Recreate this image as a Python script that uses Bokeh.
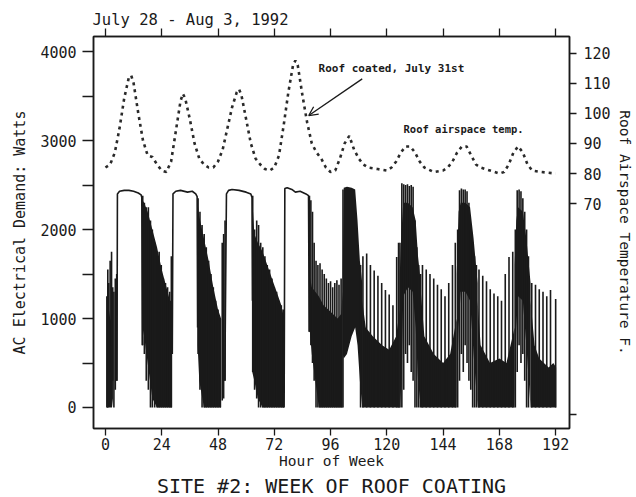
from bokeh.plotting import figure
from bokeh.models import Range1d, LinearAxis, FixedTicker, Label, Arrow, OpenHead, Title
from bokeh.embed import file_html
from bokeh.resources import INLINE

# ---------------- data ----------------
hour_ticks = [0, 24, 48, 72, 96, 120, 144, 168, 192]
watt_ticks = [0, 1000, 2000, 3000, 4000]
watt_minor = [500, 1500, 2500, 3500]
temp_ticks = [0, 70, 80, 90, 100, 110, 120]

# roof airspace temperature (F)
temp_hours = [0, 2, 4, 6, 8, 10, 11, 12, 14, 16, 18, 20, 22, 24, 26, 28, 30, 32, 33, 34, 36, 38, 40,
              42, 44, 46, 48, 50, 52, 54, 56, 57, 58, 60, 62, 64, 66, 68, 70, 72, 74, 76, 78, 80, 81,
              82, 84, 86, 88, 90, 92, 94, 96, 98, 100, 102, 104, 106, 108, 110, 112, 116, 120, 122,
              124, 126, 128, 130, 132, 134, 136, 140, 144, 146, 148, 150, 152, 154, 156, 158, 160,
              164, 168, 170, 172, 174, 176, 178, 180, 182, 186, 192]
temp_f = [82, 83, 87, 95, 105, 112, 112.5, 110, 100, 91, 86, 85.5, 83, 81, 80.5, 84, 94, 104, 106.5,
          105, 98, 90, 85, 83, 82, 82, 84, 88, 95, 102, 107, 108, 106, 98, 90, 85, 83, 81.5, 81, 82,
          86, 96, 107, 116, 117.5, 116, 106, 97, 90, 87, 85, 82, 80.5, 81, 85, 90, 92.5, 88, 85, 83,
          82, 81.5, 81, 82, 84, 87, 89, 89, 87, 84, 82, 80.5, 81, 82, 84, 87, 89, 89, 86, 83, 82,
          81, 80, 80.5, 83, 87, 89, 87, 83, 81, 80.5, 80]

# AC demand: compressor-on plateaus (W)
plateau_hours = [
    [4.9, 5.1, 6.0, 8.0, 10.0, 12.0, 14.0, 15.2, 15.5, 15.7],
    [28.5, 28.8, 30.0, 32.0, 35.0, 37.0, 38.5, 39.1, 39.3],
    [50.9, 51.6, 52.5, 54.0, 57.0, 60.0, 62.0, 62.5, 62.7],
    [76.2, 76.5, 77.5, 79.5, 81.0, 83.0, 85.5, 86.6, 86.9],
]
plateau_watts = [
    [300, 2400, 2430, 2440, 2440, 2430, 2410, 2390, 2360, 700],
    [600, 2400, 2430, 2440, 2420, 2430, 2400, 2370, 900],
    [300, 2400, 2440, 2450, 2440, 2420, 2400, 2360, 1200],
    [0, 2460, 2470, 2450, 2420, 2430, 2400, 2380, 850],
]

# AC demand: dense cycling bands (envelopes, W)
band_hours = [
    [0.6, 1.2, 2.0, 2.8, 3.2],
    [15.8, 16.5, 18, 20, 22, 24, 26, 27.5, 28.4],
    [39.3, 40, 42, 44, 46, 48, 49.3],
    [62.6, 63.5, 65, 67, 69, 71, 73, 75, 76.2],
    [87, 88, 89.5, 91, 93, 95, 97, 99, 100.5, 101.2],
    [101.2, 101.6, 103, 105, 106.5, 107.5, 108.5, 109.5],
    [109.5, 111, 114, 118, 121, 124, 125.5],
    [125.5, 126.3, 127, 129, 131, 132.3, 133.3, 134.5],
    [134.5, 136, 140, 144, 147, 149.8],
    [149.8, 150.6, 151.5, 153.5, 155.5, 157, 158.7],
    [158.7, 160, 164, 168, 171, 174.5],
    [174.5, 175.2, 176, 178, 179.5, 181.3],
    [181.3, 183, 185, 187, 189, 191, 192.2],
]
band_low = [
    [0, 0, 0, 0, 100],
    [900, 800, 500, 100, 0, 0, 0, 0, 0],
    [700, 300, 0, 0, 0, 0, 0],
    [400, 300, 100, 0, 0, 0, 0, 0, 0],
    [900, 600, 300, 0, 0, 0, 0, 0, 0, 0],
    [600, 550, 600, 800, 900, 700, 300, 0],
    [0, 0, 0, 0, 0, 0, 0],
    [0, 300, 1250, 1350, 1300, 900, 300, 0],
    [0, 0, 0, 0, 0, 0],
    [0, 900, 1300, 1300, 1200, 600, 0],
    [0, 0, 0, 0, 0, 0],
    [0, 900, 1250, 1200, 700, 0],
    [0, 0, 0, 0, 0, 0, 0],
]
band_high = [
    [1100, 1150, 1000, 950, 700],
    [2330, 2300, 2200, 2000, 1800, 1550, 1350, 1200, 1200],
    [2300, 2150, 1900, 1650, 1350, 1100, 1000],
    [2350, 1950, 1850, 1750, 1600, 1450, 1300, 1150, 1000],
    [1500, 1350, 1300, 1250, 1150, 1100, 1050, 1000, 1050, 1300],
    [1500, 2470, 2480, 2470, 2450, 2100, 1650, 1400],
    [1200, 900, 800, 700, 650, 800, 1100],
    [1500, 2000, 2300, 2300, 2250, 2100, 1700, 1400],
    [1300, 800, 600, 500, 600, 1000],
    [1500, 2200, 2300, 2300, 2250, 1900, 1400],
    [1200, 700, 500, 550, 500, 900],
    [1600, 2100, 2250, 2200, 1900, 1400],
    [1200, 700, 550, 500, 450, 500, 450],
]

# AC demand: individual on-cycles (hour, low W, high W)
seg_hour = [0.6, 1.0, 1.4, 2.0, 2.6, 3.1, 3.6, 4.2, 4.8,
            15.9, 16.6, 17.4, 18.3, 19.2, 20.0, 21.0, 22.0, 22.9, 23.8, 24.7, 25.6, 26.5, 27.4, 28.1,
            39.5, 40.3, 41.2, 42.1, 43.0, 44.0, 45.0, 46.0, 47.0, 48.0, 49.0, 49.8, 50.4, 51.0,
            62.8, 63.6, 64.5, 65.3, 66.2, 67.1, 68.0, 69.0, 70.0, 71.0, 72.0, 73.0, 74.0, 75.0, 75.8,
            87.0, 87.6, 88.3, 89.0, 89.8, 90.6, 91.5, 92.4, 93.3, 94.2, 95.1, 96.0, 96.9, 97.8, 98.7,
            99.6, 100.5, 101.3, 108.8,
            109.8, 111.4, 113.0, 114.6, 116.2, 117.8, 119.4, 121.0, 122.6, 124.2, 125.0,
            125.6, 126.4, 127.2, 128.0, 128.8, 129.6, 130.4, 131.2, 132.0, 132.8, 133.6, 134.4,
            135.2, 136.8, 138.4, 140.0, 141.6, 143.2, 144.8, 146.4, 148.0, 149.2,
            150.2, 151.0, 151.8, 152.6, 153.4, 154.2, 155.0, 155.8, 156.6, 157.4, 158.2,
            159.3, 160.9, 162.5, 164.1, 165.7, 167.3, 168.9, 170.5, 172.1, 173.7,
            174.8, 175.6, 176.4, 177.2, 178.0, 178.8, 179.6, 180.4,
            181.8, 183.4, 185.0, 186.6, 188.2, 189.8, 192.0]
seg_low = [0, 0, 50, 400, 700, 300, 0, 200, 300,
           700, 600, 300, 200, 0, 0, 0, 0, 0, 0, 0, 0, 0, 0, 0,
           600, 200, 0, 0, 0, 0, 0, 0, 0, 0, 0, 80, 100, 300,
           400, 200, 100, 0, 0, 0, 0, 0, 0, 0, 0, 0, 0, 0, 0,
           850, 700, 500, 300, 0, 0, 0, 0, 0, 0, 0, 0, 0, 0, 0,
           0, 0, 0, 0,
           0, 0, 0, 0, 0, 0, 0, 0, 0, 0, 0,
           0, 0, 200, 600, 500, 700, 400, 300, 0, 0, 0, 0,
           0, 0, 0, 0, 0, 0, 0, 0, 0, 0,
           0, 300, 600, 400, 700, 500, 300, 200, 0, 0, 0,
           0, 0, 0, 0, 0, 0, 0, 0, 0, 0,
           0, 400, 700, 500, 600, 300, 0, 0,
           0, 0, 0, 0, 0, 0, 0]
seg_high = [1250, 1550, 1400, 1650, 1750, 1350, 1300, 1450, 1500,
            2380, 2300, 2250, 2250, 2100, 2000, 1850, 1700, 1750, 1600, 1450, 1400, 1350, 1300, 1700,
            2350, 2200, 2050, 1950, 1800, 1650, 1500, 1350, 1200, 1100, 1000, 1850, 1950, 2100,
            2380, 2000, 2100, 2050, 1850, 1800, 1700, 1600, 1550, 1450, 1350, 1300, 1200, 1150, 1100,
            2380, 2330, 2200, 1850, 1650, 1600, 1620, 1550, 1500, 1450, 1400, 1420, 1350, 1400, 1430,
            1380, 1450, 2450, 1600,
            1700, 1730, 1600, 1540, 1480, 1400, 1320, 1270, 1150, 1690, 1850,
            1850, 2520, 2510, 2500, 2510, 2490, 2500, 2480, 2100, 1800, 1600, 1500,
            1600, 1550, 1500, 1450, 1380, 1330, 1250, 1400, 1600, 1850,
            2000, 2440, 2460, 2450, 2450, 2430, 2300, 2000, 1850, 1700, 1600,
            1550, 1480, 1420, 1330, 1280, 1250, 1200, 1500, 1690, 1750,
            2000, 2440, 2450, 2430, 2350, 2200, 2000, 1700,
            1400, 1380, 1330, 1300, 1250, 1320, 1220]

# ---------------- figure ----------------
MONO = "DejaVu Sans Mono"
INK = "#1a1a1a"

p = figure(width=636, height=497, output_backend="svg", toolbar_location=None,
           x_range=Range1d(-5.1, 197.9), y_range=Range1d(-236, 4169),
           x_axis_type=None, y_axis_type=None,
           min_border_left=93, min_border_right=67, min_border_top=36, min_border_bottom=69)
p.extra_y_ranges = {"temp": Range1d(-4.65, 125.5)}
p.grid.visible = False
p.outline_line_color = INK
p.outline_line_width = 1.5
p.background_fill_color = "white"
p.border_fill_color = "white"

p.title.text = "July 28 - Aug 3, 1992"
p.title.align = "left"
p.title.text_font = MONO
p.title.text_font_size = "15.5px"
p.title.text_font_style = "normal"
p.title.text_color = INK
p.title.standoff = 0
p.title.offset = -1


def style_axis(ax):
    ax.axis_line_color = INK
    ax.axis_line_width = 1.5
    ax.major_tick_line_color = INK
    ax.major_tick_line_width = 1.3
    ax.minor_tick_line_color = INK
    ax.minor_tick_line_width = 1.3
    ax.major_tick_in = 0
    ax.minor_tick_in = 0
    ax.major_label_text_font = MONO
    ax.major_label_text_font_size = "15px"
    ax.major_label_text_color = INK
    ax.axis_label_text_font = MONO
    ax.axis_label_text_font_style = "normal"
    ax.axis_label_text_color = INK


left = LinearAxis(ticker=FixedTicker(ticks=watt_ticks, minor_ticks=watt_minor),
                  axis_label="AC Electrical Demand: Watts")
style_axis(left)
left.major_tick_out = 11
left.minor_tick_out = 11
left.major_label_standoff = 6
left.axis_label_standoff = 8
left.axis_label_text_font_size = "15px"
p.add_layout(left, "left")

right = LinearAxis(y_range_name="temp", ticker=FixedTicker(ticks=temp_ticks, minor_ticks=[]),
                   axis_label="Roof Airspace Temperature F.",
                   major_label_overrides={0: ""})
style_axis(right)
right.major_tick_out = 7
right.minor_tick_out = 0
right.major_label_standoff = 7
right.axis_label_standoff = 3
right.axis_label_text_font_size = "14.5px"
p.add_layout(right, "right")

bottom = LinearAxis(ticker=FixedTicker(ticks=hour_ticks, minor_ticks=[]), axis_label="Hour of Week")
style_axis(bottom)
bottom.major_tick_out = 7
bottom.minor_tick_out = 0
bottom.major_label_standoff = 2
bottom.axis_label_standoff = 0
bottom.axis_label_text_font_size = "14.5px"
p.add_layout(bottom, "below")

top = LinearAxis(ticker=FixedTicker(ticks=hour_ticks, minor_ticks=[]),
                 major_label_overrides={t: "" for t in hour_ticks})
style_axis(top)
top.major_tick_out = 8
top.minor_tick_out = 0
top.major_label_standoff = 0
p.add_layout(top, "above")

p.add_layout(Title(text="SITE #2: WEEK OF ROOF COATING", align="center", text_font=MONO,
                   text_font_size="20px", text_font_style="normal", text_color=INK,
                   standoff=0), "below")

# demand
for hx, lo, hi in zip(band_hours, band_low, band_high):
    p.varea(x=hx, y1=lo, y2=hi, fill_color=INK)
p.segment(x0=seg_hour, y0=seg_low, x1=seg_hour, y1=seg_high, line_color=INK, line_width=1.6)
p.multi_line(xs=plateau_hours, ys=plateau_watts, line_color=INK, line_width=1.6)

# temperature
p.line(temp_hours, temp_f, y_range_name="temp", line_color="#2a2a2a", line_width=2.6,
       line_dash="3 4")

# annotations
p.add_layout(Arrow(end=OpenHead(size=9, line_color=INK, line_width=1.3),
                   x_start=109.5, y_start=3693, x_end=86.7, y_end=3281,
                   line_color=INK, line_width=1.3))
p.add_layout(Label(x=90.9, y=3815, text="Roof coated, July 31st", text_font=MONO,
                   text_font_size="11px", text_font_style="bold", text_color=INK,
                   text_baseline="middle"))
p.add_layout(Label(x=127.1, y=3124, text="Roof airspace temp.", text_font=MONO,
                   text_font_size="10.5px", text_font_style="bold", text_color=INK,
                   text_baseline="middle"))

open("out.html", "w").write(file_html(p, INLINE))
